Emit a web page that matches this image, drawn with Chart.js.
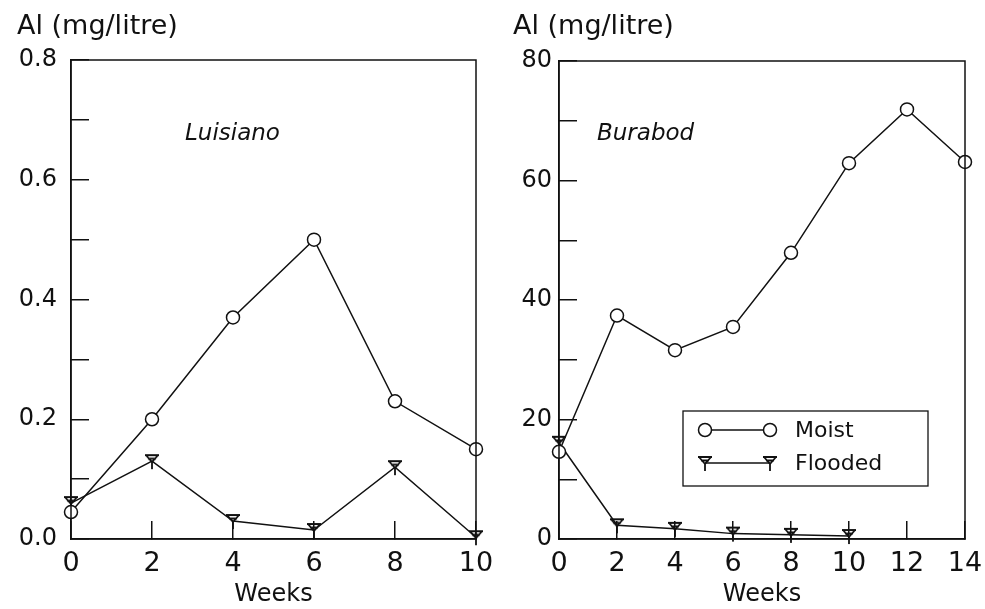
<!DOCTYPE html>
<html>
<head>
<meta charset="utf-8">
<script src="https://cdn.jsdelivr.net/npm/chart.js@4"></script>
<style>
  html, body { margin: 0; padding: 0; background: #fff; }
  #wrap { position: relative; width: 985px; height: 609px; }
  .panel { position: absolute; top: 0; height: 609px; }
  #left { left: 0; width: 492px; }
  #right { left: 492px; width: 493px; }
</style>
</head>
<body>
<div id="wrap">
  <div class="panel" id="left"><canvas id="luisiano"></canvas></div>
  <div class="panel" id="right"><canvas id="burabod"></canvas></div>
</div>
<script>
// values
const weeksLuisiano = [0, 2, 4, 6, 8, 10];
const luisianoMoist = [0.045, 0.2, 0.37, 0.5, 0.23, 0.15];
const luisianoFlooded = [0.06, 0.13, 0.03, 0.015, 0.12, 0.003];

const weeksBurabod = [0, 2, 4, 6, 8, 10, 12, 14];
const burabodMoist = [14.6, 37.4, 31.6, 35.5, 47.9, 62.9, 71.9, 63.1];
const weeksBurabodFlooded = [0, 2, 4, 6, 8, 10];
const burabodFlooded = [16.1, 2.3, 1.7, 0.9, 0.7, 0.5];

const seriesNames = ['Moist', 'Flooded'];
const yTitle = 'Al (mg/litre)';
const xTitle = 'Weeks';

const INK = '#111';
const FONT = '"DejaVu Sans", sans-serif';

// the odd "Y with bars" marker used for the flooded series
function floodedMarker() {
  const c = document.createElement('canvas');
  c.width = 18; c.height = 18;
  const g = c.getContext('2d');
  g.strokeStyle = INK;
  g.lineWidth = 1.8;
  g.beginPath();
  g.moveTo(2, 3); g.lineTo(16, 3);
  g.moveTo(3, 3); g.lineTo(9, 10);
  g.moveTo(15, 3); g.lineTo(9, 10);
  g.moveTo(5, 6.5); g.lineTo(13, 6.5);
  g.moveTo(9, 10); g.lineTo(9, 17);
  g.stroke();
  return c;
}
const floodMark = floodedMarker();

function toPoints(xs, ys) {
  return xs.map((x, i) => ({ x: x, y: ys[i] }));
}

const frame = {
  id: 'frame',
  afterDraw(chart, args, opts) {
    const { ctx, chartArea } = chart;
    ctx.save();
    ctx.strokeStyle = INK;
    ctx.lineWidth = 1.5;
    ctx.strokeRect(chartArea.left, chartArea.top, chartArea.right - chartArea.left, chartArea.bottom - chartArea.top);
    ctx.fillStyle = INK;
    ctx.textBaseline = 'alphabetic';
    ctx.font = '27px ' + FONT;
    ctx.fillText(yTitle, opts.unitX, 34);
    ctx.font = 'italic 23px ' + FONT;
    ctx.fillText(opts.site, opts.siteX, 140);
    ctx.restore();
  }
};

const legendBox = {
  id: 'legendBox',
  afterDraw(chart, args, opts) {
    if (!opts.show) return;
    const ctx = chart.ctx;
    const b = opts.box;
    ctx.save();
    ctx.strokeStyle = INK;
    ctx.lineWidth = 1.3;
    ctx.strokeRect(b.x, b.y, b.w, b.h);
    const rows = [b.y + 19, b.y + 52];
    chart.data.datasets.forEach((ds, i) => {
      const y = rows[i];
      ctx.beginPath();
      ctx.moveTo(b.x + 22, y); ctx.lineTo(b.x + 87, y);
      ctx.lineWidth = 1.5;
      ctx.stroke();
      [b.x + 22, b.x + 87].forEach(x => {
        if (ds.pointStyle === 'circle') {
          ctx.beginPath();
          ctx.arc(x, y, 6.5, 0, Math.PI * 2);
          ctx.fillStyle = '#fff';
          ctx.fill();
          ctx.stroke();
        } else {
          ctx.drawImage(ds.pointStyle, x - 9, y - 9);
        }
      });
      ctx.fillStyle = INK;
      ctx.font = '22px ' + FONT;
      ctx.textBaseline = 'middle';
      ctx.fillText(ds.label, b.x + 112, y + 1);
    });
    ctx.restore();
  }
};

function panel(canvasId, cfg) {
  return new Chart(document.getElementById(canvasId), {
    type: 'line',
    data: {
      datasets: [{
        label: seriesNames[0],
        data: toPoints(cfg.weeks, cfg.moist),
        borderColor: INK,
        borderWidth: 1.5,
        pointStyle: 'circle',
        pointRadius: 6.5,
        pointBackgroundColor: '#fff',
        pointBorderColor: INK,
        pointBorderWidth: 1.5,
        clip: false
      }, {
        label: seriesNames[1],
        data: toPoints(cfg.floodWeeks, cfg.flooded),
        borderColor: INK,
        borderWidth: 1.5,
        pointStyle: floodMark,
        pointRadius: 9,
        clip: false
      }]
    },
    options: {
      responsive: true,
      maintainAspectRatio: false,
      animation: false,
      layout: { padding: { top: cfg.top, right: cfg.padRight, left: 0, bottom: 0 } },
      plugins: {
        legend: { display: false },
        tooltip: { enabled: false },
        frame: { unitX: cfg.unitX, site: cfg.site, siteX: cfg.siteX },
        legendBox: { show: cfg.legend, box: { x: 191, y: 411, w: 245, h: 75 } }
      },
      scales: {
        x: {
          type: 'linear',
          min: 0,
          max: cfg.xMax,
          afterFit: s => { s.height = 70; s.paddingLeft = 0; s.paddingRight = 0; },
          border: { display: true, color: INK, width: 1.5 },
          grid: { drawOnChartArea: false, drawTicks: true, tickLength: -18, color: INK, lineWidth: 1.5 },
          ticks: { stepSize: 2, color: INK, padding: 27, font: { family: FONT, size: 27 } },
          title: { display: true, text: xTitle, color: INK, padding: { top: 0, bottom: 2 }, font: { family: FONT, size: 24, lineHeight: 1 } }
        },
        y: {
          min: 0,
          max: cfg.yMax,
          afterFit: s => { s.width = cfg.axisW; s.paddingTop = 0; s.paddingBottom = 0; },
          border: { display: true, color: INK, width: 1.5 },
          grid: { drawOnChartArea: false, drawTicks: true, tickLength: -18, color: INK, lineWidth: 1.5 },
          ticks: {
            stepSize: cfg.yStep,
            color: INK,
            padding: cfg.yPad,
            font: { family: FONT, size: 24 },
            callback: cfg.yLabel
          }
        }
      }
    },
    plugins: [frame, legendBox]
  });
}

panel('luisiano', {
  weeks: weeksLuisiano, moist: luisianoMoist,
  floodWeeks: weeksLuisiano, flooded: luisianoFlooded,
  xMax: 10, yMax: 0.8, yStep: 0.1,
  yLabel: v => (Math.round(v * 10) % 2 === 0 ? v.toFixed(1) : ''),
  top: 60, padRight: 16, axisW: 71, yPad: 32,
  unitX: 17, site: 'Luisiano', siteX: 185, legend: false
});

panel('burabod', {
  weeks: weeksBurabod, moist: burabodMoist,
  floodWeeks: weeksBurabodFlooded, flooded: burabodFlooded,
  xMax: 14, yMax: 80, yStep: 10,
  yLabel: v => (Math.round(v) % 20 === 0 ? String(v) : ''),
  top: 61, padRight: 20, axisW: 67, yPad: 25,
  unitX: 21, site: 'Burabod', siteX: 105, legend: true
});
</script>
</body>
</html>
